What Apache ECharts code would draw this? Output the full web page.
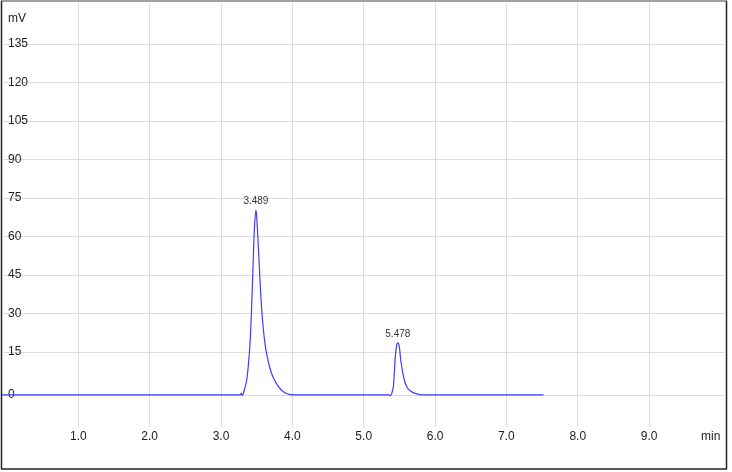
<!DOCTYPE html>
<html>
<head>
<meta charset="utf-8">
<script src="https://cdn.jsdelivr.net/npm/echarts@6/dist/echarts.min.js"></script>
<style>
  html, body { margin: 0; padding: 0; background: #fff; }
  #chart { width: 732px; height: 472px; }
</style>
</head>
<body>
<div id="chart"></div>
<script>
// retention time (min) and detector signal (mV)
const times = [
  -0.07, 3.27, 3.285, 3.30, 3.313, 3.36, 3.397, 3.416, 3.434, 3.453, 3.467, 3.489,
  3.50, 3.523, 3.546, 3.57, 3.593, 3.616, 3.64, 3.687, 3.733, 3.803, 3.873, 3.967, 4.05,
  5.35, 5.37, 5.393, 5.415, 5.429, 5.443, 5.462, 5.478, 5.499, 5.518, 5.541, 5.569,
  5.603, 5.649, 5.719, 5.813, 7.52
];
const signal = [
  -1.65, -1.65, -1.0, -1.9, -1.1, 4.1, 14.5, 23.6, 36.5, 52.1, 62.5, 70.3,
  67.7, 56.0, 43.0, 31.6, 24.0, 18.4, 14.2, 8.6, 5.0, 1.6, -0.5, -1.6, -1.65,
  -1.65, -2.0, -1.1, 1.5, 6.7, 13.2, 17.7, 18.6, 17.1, 11.9, 8.0, 4.1,
  1.5, -0.1, -1.1, -1.65, -1.65
];
// peaks that get a retention time label
const peakTimes = [3.489, 5.478];

// axis ticks; the "0" line sits on the signal baseline, "min" stands at 10
const xTicks = [1, 2, 3, 4, 5, 6, 7, 8, 9];
const xLabels = [1, 2, 3, 4, 5, 6, 7, 8, 9, 10];
const baseline = -1.65;
const yTicks = [baseline, 15, 30, 45, 60, 75, 90, 105, 120, 135];

const font = "'Liberation Sans', Arial, sans-serif";

const data = times.map((t, i) => [t, signal[i]]);
const peaks = peakTimes.map(t => ({ coord: [t, signal[times.indexOf(t)]] }));

const chart = echarts.init(document.getElementById('chart'), null, { renderer: 'canvas' });

const option = {
  animation: false,
  textStyle: { fontFamily: font },
  grid: { left: 2, right: 6, top: 3, bottom: 45, containLabel: false },
  xAxis: {
    type: 'value',
    min: -0.07,
    max: 10.078,
    axisLine: { show: false },
    axisTick: { show: false, customValues: xTicks },
    axisLabel: {
      customValues: xLabels,
      color: '#222', fontSize: 12, fontFamily: font, margin: 4,
      alignMaxLabel: 'right',
      formatter: v => (v === 10 ? 'min' : v.toFixed(1))
    },
    splitLine: { show: true, lineStyle: { color: '#dcdcdc', width: 1 } }
  },
  yAxis: {
    type: 'value',
    min: -14.2,
    max: 150.97,
    name: 'mV',
    nameLocation: 'end',
    nameGap: -22,
    nameMoveOverlap: false,
    nameTextStyle: {
      color: '#222', fontSize: 12, fontFamily: font,
      align: 'left', verticalAlign: 'bottom', padding: [0, 0, 0, 1]
    },
    axisLine: { show: false },
    axisTick: { show: false, customValues: yTicks },
    axisLabel: {
      customValues: yTicks,
      inside: true,
      margin: 6,
      color: '#222', fontSize: 12, fontFamily: font,
      formatter: v => (v < 0 ? '0' : String(v))
    },
    splitLine: { show: true, lineStyle: { color: '#dcdcdc', width: 1 } }
  },
  series: [{
    type: 'line',
    data: data,
    showSymbol: false,
    symbol: 'none',
    smooth: 0.3,
    lineStyle: { color: '#3c3cff', width: 1.2 },
    markPoint: {
      symbol: 'circle',
      symbolSize: 0,
      data: peaks,
      label: {
        show: true,
        position: 'top',
        distance: 4,
        color: '#333',
        fontSize: 10,
        fontFamily: font,
        formatter: p => p.data.coord[0].toFixed(3)
      }
    },
    z: 5
  }],
  // outer frame of the plot
  graphic: [
    { type: 'line', shape: { x1: 1, y1: 1, x2: 727, y2: 1 }, style: { stroke: '#808080', lineWidth: 1.5 } },
    { type: 'line', shape: { x1: 1.5, y1: 1, x2: 1.5, y2: 469 }, style: { stroke: '#222', lineWidth: 1.5 } },
    { type: 'line', shape: { x1: 726.5, y1: 1, x2: 726.5, y2: 469 }, style: { stroke: '#222', lineWidth: 1.5 } },
    { type: 'line', shape: { x1: 1, y1: 469, x2: 727, y2: 469 }, style: { stroke: '#222', lineWidth: 1.5 } }
  ]
};

chart.setOption(option);
</script>
</body>
</html>
